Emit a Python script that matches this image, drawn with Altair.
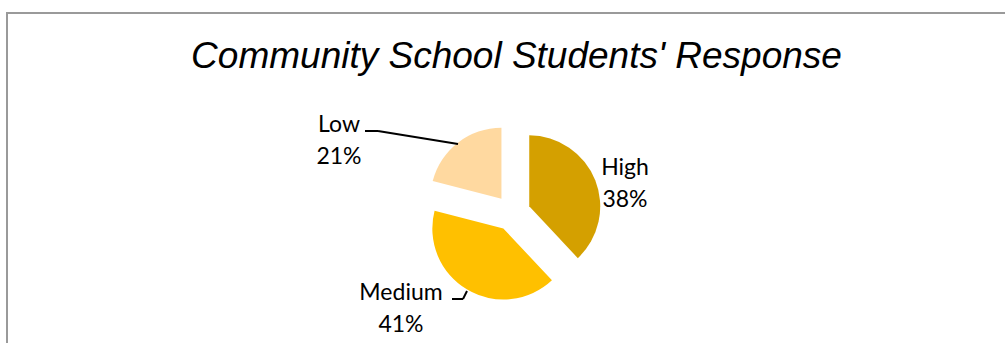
import math
import altair as alt
import pandas as pd

# ---- data ----
categories = ["High", "Medium", "Low"]
values = [38, 41, 21]
colors = ["#D4A000", "#FFC000", "#FFD9A0"]
title_text = "Community School Students' Response"

# ---- layout / style ----
W, H = 1005, 343
CX, CY = 512.5, 213.0       # pie centre (px)
R = 71                      # pie radius
EXPLODE = 18                # slice explosion distance
LABEL_POS = {"High": (625, 175), "Medium": (401, 300), "Low": (339, 132)}
LABEL_FONT = "Lato"
LABEL_SIZE = 23

df = pd.DataFrame({"category": categories, "value": values, "order": range(len(categories))})

base = alt.Chart(df)

pie = base.transform_window(
    cum="sum(value)", sort=[alt.SortField("order")]
).transform_joinaggregate(
    total="sum(value)"
).transform_calculate(
    start="datum.cum - datum.value",
    mid="(datum.cum - datum.value / 2) / datum.total * 2 * PI",
    ex=f"{CX} + {EXPLODE} * sin(datum.mid)",
    ey=f"{CY} - {EXPLODE} * cos(datum.mid)",
).mark_arc(radius=R, stroke=None).encode(
    x=alt.X("ex:Q", scale=None),
    y=alt.Y("ey:Q", scale=None),
    theta=alt.Theta("start:Q", scale=alt.Scale(domain=[0, 100], range=[0, 2 * math.pi]), stack=None),
    theta2="cum:Q",
    color=alt.Color("category:N", scale=alt.Scale(domain=categories, range=colors), legend=None),
)

lab_df = pd.DataFrame({
    "category": categories,
    "value": values,
    "lx": [LABEL_POS[c][0] for c in categories],
    "ly": [LABEL_POS[c][1] for c in categories],
})
labels = alt.Chart(lab_df).transform_calculate(
    label="[datum.category, datum.value + '%']"
).mark_text(
    font=LABEL_FONT, fontSize=LABEL_SIZE, color="#000000", align="center",
    baseline="alphabetic", lineHeight=32,
).encode(
    x=alt.X("lx:Q", scale=None),
    y=alt.Y("ly:Q", scale=None),
    text="label:N",
)

# leader lines (annotation)
leaders = [
    (365, 131, 378, 131), (378, 131, 458, 144),
    (452, 299, 463, 299), (463, 299, 467, 291),
]
leader_layers = [
    alt.Chart(pd.DataFrame({"a": [0]})).mark_rule(color="#000000", strokeWidth=2).encode(
        x=alt.value(x1), y=alt.value(y1), x2=alt.value(x2), y2=alt.value(y2)
    )
    for (x1, y1, x2, y2) in leaders
]

frame = alt.Chart(pd.DataFrame({"a": [0]})).mark_rect(
    fill=None, stroke="#9A9A9A", strokeWidth=2
).encode(x=alt.value(7), x2=alt.value(1030), y=alt.value(13), y2=alt.value(400))

title = alt.Chart(pd.DataFrame({"t": [title_text]})).mark_text(
    font="Liberation Sans", fontSize=37, fontStyle="italic", color="#000000",
    align="center", baseline="alphabetic",
).encode(x=alt.value(516.5), y=alt.value(68), text="t:N")

chart = alt.layer(frame, title, pie, *leader_layers, labels).properties(
    width=W, height=H, padding=0, autosize=alt.AutoSizeParams(type="none"),
    background="#FFFFFF",
).configure_view(stroke=None)

chart.save("out.html", embed_options={"renderer": "svg", "actions": False})
